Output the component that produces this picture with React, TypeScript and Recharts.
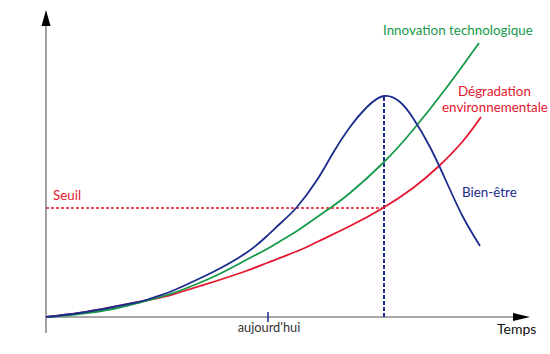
import { LineChart, Line, XAxis, YAxis, ReferenceLine, ReferenceDot } from "recharts";

// Bien-être
const wellbeingT = [0, 33, 67, 90, 100, 121, 133, 167, 200, 221, 237, 251, 271, 287, 304, 321, 338, 354, 367, 384, 401, 417, 434];
const wellbeingV = [0, 4, 10, 14.5, 17, 24, 29, 45, 64, 81, 96, 110, 137, 164, 190, 210, 221, 215, 199, 170, 134, 100, 71];

// Innovation technologique
const innovationT = [0, 33, 67, 90, 100, 121, 133, 167, 200, 221, 237, 254, 282, 304, 337, 367, 401, 433];
const innovationV = [0, 3, 8, 13.5, 16, 22, 26, 40, 57, 68, 77.5, 88, 107.5, 124, 154, 187, 230, 274];

// Dégradation environnementale
const degradationT = [0, 33, 67, 90, 100, 121, 133, 167, 200, 221, 254, 271, 304, 337, 367, 393, 417, 435];
const degradationV = [0, 4, 10, 14.5, 16.5, 21, 24.5, 35, 46, 54, 67, 75, 91, 109, 129, 151, 176, 200];

const seuil = 109;
const todayT = 222;

const GREEN = "#17994a";
const RED = "#e5172f";
const BLUE = "#1c2b8c";
const AXIS = "#8a8a8a";
const FONT = "Lato, 'Open Sans', sans-serif";

const toRows = (t: number[], v: number[]) => t.map((x, i) => ({ t: x, v: v[i] }));

const wellbeing = toRows(wellbeingT, wellbeingV);
const innovation = toRows(innovationT, innovationV);
const degradation = toRows(degradationT, degradationV);

const peakIdx = wellbeingV.indexOf(Math.max(...wellbeingV));
const peakT = wellbeingT[peakIdx];
const peakV = wellbeingV[peakIdx];

// text drawn at a data point (baseline)
const textShape =
  (label: string, color: string, anchor: "start" | "middle" | "end" = "start", size = 13.4) =>
  (p: any) => (
    <text x={p.cx} y={p.cy} fill={color} fontSize={size} fontFamily={FONT} textAnchor={anchor}>
      {label}
    </text>
  );

const upArrow = (p: any) => (
  <polygon points={`${p.cx},${p.cy} ${p.cx - 4.5},${p.cy + 16} ${p.cx + 4.5},${p.cy + 16}`} fill="#000" />
);
const rightArrow = (p: any) => (
  <polygon points={`${p.cx},${p.cy} ${p.cx - 17},${p.cy - 4} ${p.cx - 17},${p.cy + 4}`} fill="#000" />
);

export default function App() {
  return (
    <div style={{ position: "absolute", left: 0, top: 0, background: "#fff" }}>
      <LineChart width={550} height={354} margin={{ top: 10, right: 20, bottom: 37, left: 46 }}>
        <XAxis type="number" dataKey="t" domain={[0, 484]} hide />
        <YAxis type="number" dataKey="v" domain={[0, 307]} hide />

        {/* axes */}
        <ReferenceLine segment={[{ x: 0, y: -16 }, { x: 0, y: 296 }]} stroke={AXIS} strokeWidth={1.6} ifOverflow="visible" />
        <ReferenceLine segment={[{ x: 0, y: 0 }, { x: 470, y: 0 }]} stroke={AXIS} strokeWidth={1.6} ifOverflow="visible" />
        <ReferenceDot x={0} y={307} r={0} shape={upArrow} ifOverflow="visible" />
        <ReferenceDot x={484} y={0} r={0} shape={rightArrow} ifOverflow="visible" />

        {/* aujourd'hui tick */}
        <ReferenceLine segment={[{ x: todayT, y: 5 }, { x: todayT, y: -5 }]} stroke={BLUE} strokeWidth={1.5} ifOverflow="visible" />

        {/* seuil + peak */}
        <ReferenceLine segment={[{ x: 0, y: seuil }, { x: peakT, y: seuil }]} stroke={RED} strokeWidth={1.5} strokeDasharray="3 2" />
        <ReferenceLine segment={[{ x: peakT, y: 0 }, { x: peakT, y: peakV }]} stroke={BLUE} strokeWidth={2} strokeDasharray="4 2" />

        <Line data={degradation} dataKey="v" type="natural" stroke={RED} strokeWidth={1.8} dot={false} isAnimationActive={false} />
        <Line data={innovation} dataKey="v" type="natural" stroke={GREEN} strokeWidth={1.8} dot={false} isAnimationActive={false} />
        <Line data={wellbeing} dataKey="v" type="natural" stroke={BLUE} strokeWidth={1.8} dot={false} isAnimationActive={false} />

        {/* labels */}
        <ReferenceDot x={337} y={282} r={0} shape={textShape("Innovation technologique", GREEN)} ifOverflow="visible" />
        <ReferenceDot x={412} y={221} r={0} shape={textShape("Dégradation", RED)} ifOverflow="visible" />
        <ReferenceDot x={396} y={205} r={0} shape={textShape("environnementale", RED)} ifOverflow="visible" />
        <ReferenceDot x={416} y={120} r={0} shape={textShape("Bien-être", BLUE)} ifOverflow="visible" />
        <ReferenceDot x={7} y={117} r={0} shape={textShape("Seuil", RED)} ifOverflow="visible" />
        <ReferenceDot x={todayT + 1} y={-15} r={0} shape={textShape("aujourd'hui", "#333", "middle", 12.8)} ifOverflow="visible" />
        <ReferenceDot x={451} y={-17} r={0} shape={textShape("Temps", "#111", "start", 14)} ifOverflow="visible" />
      </LineChart>
    </div>
  );
}
